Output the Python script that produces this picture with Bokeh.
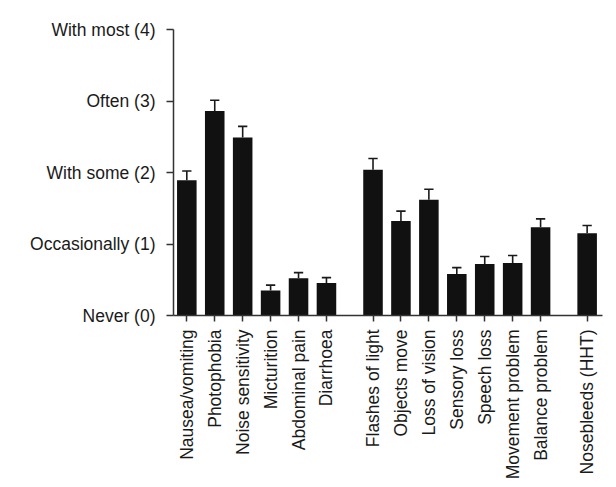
import math
from bokeh.plotting import figure
from bokeh.models import FixedTicker, Range1d, ColumnDataSource, Label
from bokeh.embed import file_html
from bokeh.resources import INLINE

# ---- data ----
symptoms_gi = ["Nausea/vomiting", "Photophobia", "Noise sensitivity", "Micturition",
               "Abdominal pain", "Diarrhoea"]
symptoms_visual = ["Flashes of light", "Objects move", "Loss of vision", "Sensory loss",
                   "Speech loss", "Movement problem", "Balance problem"]
symptoms_other = ["Nosebleeds (HHT)"]

means_gi = [1.89, 2.86, 2.49, 0.35, 0.52, 0.455]
sem_gi = [0.13, 0.15, 0.155, 0.075, 0.08, 0.075]
means_visual = [2.04, 1.32, 1.62, 0.58, 0.72, 0.735, 1.235]
sem_visual = [0.155, 0.14, 0.145, 0.09, 0.105, 0.105, 0.117]
means_other = [1.15]
sem_other = [0.108]

y_tick_values = [0, 1, 2, 3, 4]
y_tick_labels = ["Never (0)", "Occasionally (1)", "With some (2)", "Often (3)", "With most (4)"]

# ---- layout of categories (slot = 3 units, extra gap of 2 units between groups) ----
groups = [(symptoms_gi, means_gi, sem_gi),
          (symptoms_visual, means_visual, sem_visual),
          (symptoms_other, means_other, sem_other)]
SLOT, GAP = 3, 2
names, xs, tops, errs = [], [], [], []
idx = 0
for g, (n, m, s) in enumerate(groups):
    for i in range(len(n)):
        names.append(n[i])
        xs.append(idx * SLOT + g * GAP)
        tops.append(m[i])
        errs.append(s[i])
        idx += 1

src = ColumnDataSource(dict(
    x=xs, top=tops,
    err_top=[t + e for t, e in zip(tops, errs)],
    cap_l=[x - 0.5 for x in xs], cap_r=[x + 0.5 for x in xs],
))

FONT = "Liberation Sans"
INK = "#1a1a1a"

p = figure(width=616, height=487, output_backend="svg", toolbar_location=None,
           x_range=Range1d(-1.43, xs[-1] + 1.65), y_range=Range1d(0, 4),
           min_border_left=173, min_border_right=14, min_border_top=29,
           min_border_bottom=172)
p.outline_line_color = None
p.xgrid.visible = False
p.ygrid.visible = False
p.background_fill_color = "white"
p.border_fill_color = "white"

# open frame (left and top edges) of the cropped original: the border box of an
# invisible label whose padding runs past the right and bottom of the canvas
p.add_layout(Label(x=12, y=8, x_units="canvas", y_units="canvas", text="x",
                   text_alpha=0, text_font_size="10px", anchor="top_left",
                   padding=(0, 1000, 1000, 0),
                   border_line_color="#222222", border_line_width=2,
                   background_fill_color=None))

p.vbar(x="x", top="top", bottom=0, width=2.1, source=src,
       fill_color="#111111", line_color=None)
p.segment(x0="x", y0="top", x1="x", y1="err_top", source=src,
          line_color=INK, line_width=1.6)
p.segment(x0="cap_l", y0="err_top", x1="cap_r", y1="err_top", source=src,
          line_color=INK, line_width=1.6)

# y axis
ya = p.yaxis[0]
ya.ticker = FixedTicker(ticks=y_tick_values)
ya.major_label_overrides = {v: lab for v, lab in zip(y_tick_values, y_tick_labels)}
ya.minor_tick_line_color = None
ya.major_tick_in = 0
ya.major_tick_out = 7
ya.major_label_standoff = 11
ya.major_label_text_font = FONT
ya.major_label_text_font_size = "17.5px"
ya.major_label_text_color = INK
ya.axis_line_color = "#333333"
ya.axis_line_width = 1.5
ya.major_tick_line_color = "#333333"
ya.major_tick_line_width = 1.5

# x axis
xa = p.xaxis[0]
xa.ticker = FixedTicker(ticks=xs)
xa.major_label_overrides = {x: n for x, n in zip(xs, names)}
xa.major_label_orientation = math.pi / 2
xa.minor_tick_line_color = None
xa.major_tick_in = 0
xa.major_tick_out = 6
xa.major_label_standoff = 8
xa.major_label_text_font = FONT
xa.major_label_text_font_size = "17.5px"
xa.major_label_text_color = INK
xa.axis_line_color = "#333333"
xa.axis_line_width = 1.5
xa.major_tick_line_color = "#333333"
xa.major_tick_line_width = 1.5

open("out.html", "w").write(file_html(p, INLINE))
